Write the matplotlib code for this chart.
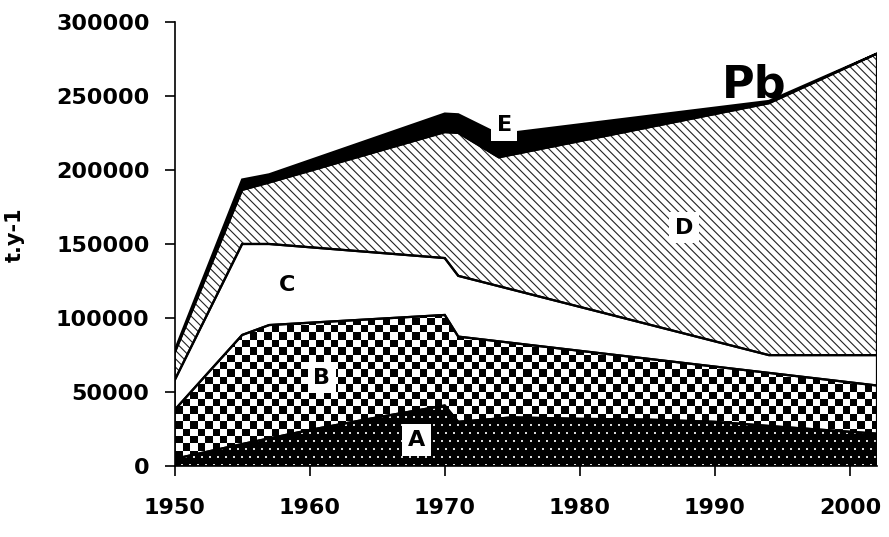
import matplotlib
matplotlib.use("Agg")
import matplotlib.pyplot as plt
import numpy as np
from matplotlib.patches import Polygon

# cumulative tops of each layer (t/y)
yrs_a = [1950, 1955, 1960, 1965, 1970, 1971, 1975, 1980, 1985, 1990, 1995, 2002]
top_a = [5000, 15000, 24500, 33000, 41000, 30000, 33000, 32000, 31500, 30000, 26500, 22000]

yrs_b = [1950, 1955, 1957, 1970, 1971, 2002]
top_b = [38000, 88600, 95300, 102100, 87500, 54500]

yrs_c = [1950, 1955, 1957, 1970, 1971, 1994, 2002]
top_c = [58000, 150000, 150000, 140500, 128500, 75000, 75000]

yrs_d = [1950, 1955, 1957, 1970, 1971, 1974, 1994, 2002]
top_d = [76500, 186500, 191500, 225500, 225000, 208500, 245000, 278500]

yrs_e = [1950, 1955, 1957, 1970, 1971, 1974, 1994, 2002]
top_e = [78000, 193500, 197000, 238000, 237500, 224000, 246500, 278500]

layer_names = ['A', 'B', 'C', 'D', 'E']
label_pos = [(1967.9, 17700), (1960.9, 59700), (1958.3, 122500), (1987.7, 160900), (1974.4, 230200)]

plt.rcParams['font.family'] = 'DejaVu Sans'
plt.rcParams['font.weight'] = 'bold'
plt.rcParams['hatch.linewidth'] = 0.8

fig = plt.figure(figsize=(8.89, 5.37), dpi=100)
ax = fig.add_axes([0.1964, 0.1317, 0.7901, 0.8279])
EXT = (1950, 2002, 0, 300000)
W, H = 702, 445  # axes size in pixels


def band(x_hi, y_hi, x_lo, y_lo):
    xs = list(x_hi) + list(x_lo)[::-1]
    ys = list(y_hi) + list(y_lo)[::-1]
    return np.column_stack([xs, ys])


def textured(poly, img):
    clip = Polygon(poly, closed=True, facecolor='white', edgecolor='none', zorder=1)
    ax.add_patch(clip)
    im = ax.imshow(img, cmap='gray', vmin=0, vmax=1, extent=EXT, aspect='auto',
                   interpolation='nearest', origin='upper', zorder=1)
    im.set_clip_path(clip)


bottom = ([1950, 2002], [0, 0])
pa = band(yrs_a, top_a, *bottom)
pb = band(yrs_b, top_b, yrs_a, top_a)
pc = band(yrs_c, top_c, yrs_b, top_b)
pd = band(yrs_d, top_d, yrs_c, top_c)
pe = band(yrs_e, top_e, yrs_d, top_d)

# A: black with small white dots (staggered rows)
dots = np.zeros((H, W))
for r, y in enumerate(range(3, H, 8)):
    off = 0 if r % 2 == 0 else 4
    for x in range(off + 2, W, 8):
        dots[y:y + 2, x:x + 2] = 0.85
textured(pa, dots)

# B: checkerboard
ii, jj = np.meshgrid(np.arange(W), np.arange(H))
checker = (((ii // 7.4).astype(int) + (jj // 7.4).astype(int)) % 2).astype(float)
textured(pb, checker)

# C: white
ax.add_patch(Polygon(pc, closed=True, facecolor='white', edgecolor='none', zorder=2))
# D: diagonal hatch
ax.add_patch(Polygon(pd, closed=True, facecolor='white', edgecolor='#222222', hatch='\\\\\\\\', lw=0, zorder=2))
# E: black
ax.add_patch(Polygon(pe, closed=True, facecolor='black', edgecolor='black', lw=0, zorder=2))

for poly in [pa, pb, pc, pd, pe]:
    ax.add_patch(Polygon(poly, closed=True, facecolor='none', edgecolor='black', lw=1.6, zorder=3))

for name, (x, y) in zip(layer_names, label_pos):
    ax.text(x, y, name, ha='center', va='center', fontsize=16, fontweight='bold', zorder=5,
            bbox=dict(facecolor='white', edgecolor='none', pad=4))

ax.text(1992.9, 257000, 'Pb', ha='center', va='center', fontsize=32, fontweight='bold', zorder=5)

ax.set_xlim(1950, 2002)
ax.set_ylim(0, 300000)
ax.set_xticks([1950, 1960, 1970, 1980, 1990, 2000])
ax.set_yticks(np.arange(0, 300001, 50000))
ax.tick_params(axis='x', direction='out', length=7, width=1.2, pad=16, labelsize=16)
ax.tick_params(axis='y', direction='out', length=7, width=1.2, pad=11, labelsize=16)
for lab in ax.get_xticklabels() + ax.get_yticklabels():
    lab.set_fontweight('bold')
ax.spines['top'].set_visible(False)
ax.spines['right'].set_visible(False)
ax.spines['left'].set_linewidth(1.2)
ax.spines['bottom'].set_linewidth(1.2)
ax.set_ylabel('t.y-1', fontsize=15, fontweight='bold')
ax.yaxis.set_label_coords(-0.213, 0.52)

fig.savefig('out.png', dpi=100)
